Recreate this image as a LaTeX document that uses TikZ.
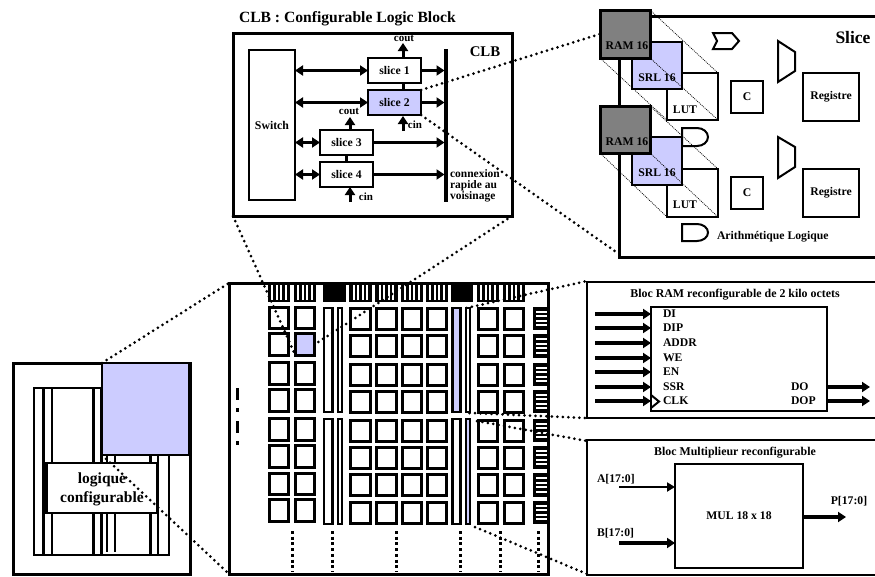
\documentclass[tikz,border=0pt]{standalone}
\usepackage{fontspec}
\setmainfont{Liberation Serif}
\usetikzlibrary{arrows.meta,calc}
\definecolor{lav}{RGB}{204,204,255}
\definecolor{ramgray}{RGB}{128,128,128}
\newcommand{\bx}[7][]{\node[boxn,#1,minimum width={(#4-#2)*1pt},minimum height={(#5-#3)*1pt}] (#6) at ({(#2+#4)/2},{(#3+#5)/2}) {#7};}
\newcommand{\fs}[1]{\bfseries\fontsize{#1}{#1}\selectfont}
\tikzset{
 boxn/.style={draw=black,fill=white,line width=2.5pt,inner sep=0pt,outer sep=0pt,align=center},
 lbl/.style={inner sep=0pt,outer sep=0pt,align=center,font=\fs{11.7}},
 wire/.style={line width=3pt,-{Triangle[length=8pt,width=10pt]}},
 bigwire/.style={line width=3.6pt,-{Triangle[length=8pt,width=10pt]}},
 dwire/.style={line width=3pt,{Triangle[length=8pt,width=10pt]}-{Triangle[length=8pt,width=10pt]}},
 plainw/.style={line width=3pt},
 dots/.style={line width=3pt,line cap=round,dash pattern=on 0pt off 5.5pt},
 thind/.style={line width=0.7pt,dash pattern=on 1pt off 1pt},
 gate/.style={line width=2pt,fill=white,line join=miter},
 cellb/.style={line width=3pt,fill=white},
}
\begin{document}
\begin{tikzpicture}[x=1pt,y=-1pt]
\useasboundingbox (0,0) rectangle (875,576);
\fill[white] (0,0) rectangle (875,576);

%% CLB
\node[lbl,anchor=west,font=\fs{15.6}] (clbtitle) at (239,19) {CLB : Configurable Logic Block};
\bx[line width=3pt]{233}{33}{512}{216}{clb}{}
\node[lbl,font=\fs{14.8}] (clbname) at (485,52) {CLB};
\bx[line width=2.5pt]{249}{50}{295}{200}{sw}{\fs{11.8}Switch}
\bx{368}{58}{421}{83}{s1}{\fs{11.7}slice 1}
\bx[fill=lav]{368}{90}{421}{115}{s2}{\fs{11.7}slice 2}
\bx{320}{130}{373}{155}{s3}{\fs{11.7}slice 3}
\bx{320}{162}{373}{187}{s4}{\fs{11.7}slice 4}
\bx[fill=black,line width=0pt]{444.5}{49}{447.5}{201}{bar}{}
\draw[plainw] (403,83) -- (403,90);
\draw[plainw] (s3.south) -- (s4.north);
\draw[dwire] (s1.west -| sw.east) -- (s1.west);
\draw[dwire] (s2.west -| sw.east) -- (s2.west);
\draw[dwire] (s3.west -| sw.east) -- (s3.west);
\draw[dwire] (s4.west -| sw.east) -- (s4.west);
\draw[wire] (s1.east) -- (s1.east -| bar.west);
\draw[wire] (s2.east) -- (s2.east -| bar.west);
\draw[wire] (s3.east) -- (s3.east -| bar.west);
\draw[wire] (s4.east) -- (s4.east -| bar.west);
\coordinate (c1) at (403,43); \coordinate (c2) at (350,117);
\coordinate (c3) at (403,131); \coordinate (c4) at (350,202);
\coordinate (s1t) at (403,57); \coordinate (s3t) at (350,129);
\coordinate (s2b) at (403,116); \coordinate (s4b) at (350,187);
\draw[wire] (s1t) -- (c1);
\draw[wire] (s3t) -- (c2);
\draw[wire] (c3) -- (s2b);
\draw[wire] (c4) -- (s4b);
\node[lbl,font=\fs{11}] (cout1) at (404,38) {cout};
\node[lbl,font=\fs{11}] (cout2) at (349,111) {cout};
\node[lbl,font=\fs{11}] (cin1) at (415,125) {cin};
\node[lbl,font=\fs{11}] (cin2) at (366,197) {cin};
\node[lbl,anchor=north west,align=left,font=\bfseries\fontsize{11.5}{11}\selectfont] (conn) at (450,170) {connexion\\rapide au\\voisinage};

%% Slice
\draw[line width=3pt] (619,16) -- (876,16);
\draw[line width=3pt] (619,16) -- (619,257) -- (876,257);
\bx[line width=2.5pt]{803}{73}{859}{121}{reg1}{\fs{11.7}Registre}
\bx[line width=2.5pt]{803}{169}{859}{217}{reg2}{\fs{11.7}Registre}
\bx[line width=2.5pt]{731}{81}{763}{113}{cc1}{\fs{11.7}C}
\bx[line width=2.5pt]{731}{177}{763}{209}{cc2}{\fs{11.7}C}
\bx[line width=2pt]{667}{73}{718}{120}{lut1}{}
\bx[line width=2pt]{667}{169}{718}{217}{lut2}{}
\bx[fill=lav,line width=2.5pt]{632}{42}{682}{89}{srl1}{}
\bx[fill=lav,line width=2.5pt]{632}{137}{682}{185}{srl2}{}
% gates
\path[draw,gate] (713,33) -- (732,33) -- (739,41) -- (732,49) -- (713,49) -- (717,41) -- cycle;
\path[draw,gate] (778,41) -- (795,52) -- (795,71) -- (778,82) -- cycle;
\path[draw,gate] (778,137) -- (795,147) -- (795,167) -- (778,178) -- cycle;
\path[draw,gate] (682,128) -- (697,128) arc[start angle=90,end angle=-90,x radius=11,y radius=-9] -- (682,146) -- cycle;
\path[draw,gate] (682,224) -- (697,224) arc[start angle=90,end angle=-90,x radius=11,y radius=-8.5] -- (682,241) -- cycle;
\node[lbl,anchor=west,font=\fs{11.7}] (arith) at (717,237) {Arithmétique Logique};
\node[lbl,font=\fs{17.5}] (slname) at (853,38) {Slice};
\bx[fill=ramgray,line width=3pt]{600}{10}{650}{58}{ram1}{}
\bx[fill=ramgray,line width=3pt]{600}{106}{650}{153}{ram2}{}
\draw[thind] (ram1.north east) -- (lut1.north east);
\draw[thind] (ram1.south east) -- (lut1.south east);
\draw[thind] (ram1.south west) -- (lut1.south west);
\draw[thind] (ram2.north east) -- (lut2.north east);
\draw[thind] (ram2.south east) -- (lut2.south east);
\draw[thind] (ram2.south west) -- (lut2.south west);
\node[lbl,font=\fs{11.7}] (lut1t) at (685,110) {LUT};
\node[lbl,font=\fs{11.7}] (lut2t) at (685,205) {LUT};
\node[lbl,font=\fs{11.7}] (srl1t) at (657,78) {SRL 16};
\node[lbl,font=\fs{11.7}] (srl2t) at (657,173) {SRL 16};
\node[lbl,font=\fs{11.7}] (ram1t) at (627,46) {RAM 16};
\node[lbl,font=\fs{11.7}] (ram2t) at (627,142) {RAM 16};

%% FPGA
\bx[line width=3pt]{229}{283}{548}{574}{fpga}{}
% top pads
\foreach \a/\b in {268/290,294/316,349/372,375/398,401/423,426/448,477/499,503/525}{
  \fill (\a,284) rectangle (\b,302);
  \foreach \k in {0.2,0.4,0.6,0.8}
    \draw[white,line width=2pt] ({\a+\k*(\b-\a)},285) -- ({\a+\k*(\b-\a)},300);
}
\fill (323,284) rectangle (346,302);
\fill (451,284) rectangle (473,302);
% right pads
\foreach \a/\b in {307/330,334/358,363/386,390/413,419/442,446/469,473/497,501/524}{
  \fill (533,\a) rectangle (547,\b);
  \foreach \k in {0.2,0.4,0.6,0.8}
    \draw[white,line width=2pt] (536,{\a+\k*(\b-\a)}) -- (547,{\a+\k*(\b-\a)});
}
% grid
\foreach \a/\b in {306/330,332/357,361/386,388/413,417/442,444/469,472/496,498/523}{
  \foreach \c/\d in {269.5/288.5,295.5/314.5}
    \draw[cellb] (\c,\a+1.5) rectangle (\d,\b-1.5);
}
\foreach \a/\b in {307/331,334/358,363/387,390/414,419/443,446/470,473/497,501/525}{
  \foreach \c/\d in {350.5/370.5,376.5/396.5,402.5/421.5,427.5/446.5,478.5/497.5,504.5/523.5}
    \draw[cellb] (\c,\a+1.5) rectangle (\d,\b-1.5);
}
\bx[fill=lav,line width=3pt]{295.5}{333.5}{314.5}{355.5}{cellsel}{}
% bars
\foreach \a/\b in {308/412,419/524}{
  \draw[line width=2.5pt,fill=white] (324,\a) rectangle (332.5,\b);
  \draw[line width=2.5pt,fill=white] (338,\a) rectangle (342,\b);
}
\bx[fill=lav,line width=2.5pt]{452.5}{308}{460.5}{412}{bar1}{}
\draw[line width=2.5pt,fill=white] (466,308) rectangle (470,412);
\draw[line width=2.5pt,fill=white] (452.5,419) rectangle (460.5,524);
\bx[fill=lav,line width=2.5pt]{466}{419}{470}{524}{bar2}{}
% dashes
\draw[line width=3pt] (237,388) -- (237,400);
\draw[line width=3pt] (237,408) -- (237,412);
\draw[line width=3pt] (237,421) -- (237,433);
\draw[line width=3pt] (237,441) -- (237,445);
\foreach \x in {292,332,396,460,500,538}
  \draw[line width=3pt,dash pattern=on 3pt off 2.7pt] (\x,531) -- (\x,571);

%% Left block
\bx[line width=3pt]{13}{363}{190}{574}{lb}{}
\bx[line width=2.5pt]{34}{388}{169}{555}{lbi}{}
\foreach \x/\w in {43/3,52/2.5,93/3,101/3,150/3,158/2.5}
  \draw[line width=\w pt] (\x,388) -- (\x,555);
\foreach \x in {107,115}
  \draw[line width=2.5pt] (\x,455) -- (\x,552);
\bx[fill=lav,line width=2.5pt]{102}{363}{189.5}{455}{lbl1}{}
\bx[line width=2.5pt]{46}{463}{157}{513}{logic}{}
\draw[line width=3pt] (46,462) -- (46,514);
\node[lbl,font=\fs{15.5}] (lg1) at (102,480) {logique};
\node[lbl,font=\fs{15.5}] (lg2) at (102,499) {configurable};

%% RAM block
\draw[line width=2.5pt] (876,282) -- (587,282) -- (587,418) -- (876,418);
\node[lbl,font=\fs{11.9}] (ramtitle) at (735,295) {Bloc RAM reconfigurable de 2 kilo octets};
\bx[line width=2.5pt]{651}{307}{827}{411}{rb}{}
\foreach \n/\t/\y in {a/DI/314,b/DIP/328,c/ADDR/343,d/WE/358,e/EN/372,f/SSR/387,g/CLK/401}{
  \coordinate (in\n) at (595,\y);
  \coordinate (pin\n) at (651,\y);
  \draw[bigwire] (in\n) -- (pin\n);
  \node[lbl,anchor=west,font=\fs{11.7}] (t\n) at (663,\y) {\t};
}
\draw[line width=2pt] (651,395) -- (659,401.5) -- (651,408);
\node[lbl,anchor=west,font=\fs{11.7}] (tdo) at (791,387) {DO};
\node[lbl,anchor=west,font=\fs{11.7}] (tdop) at (791,401) {DOP};
\coordinate (odo) at (870,387); \coordinate (odop) at (870,401);
\draw[bigwire] (odo -| rb.east) -- (odo);
\draw[bigwire] (odop -| rb.east) -- (odop);

%% MUL block
\draw[line width=2.5pt] (876,440) -- (587,440) -- (587,575) -- (876,575);
\node[lbl,font=\fs{11.9}] (multitle) at (735,453) {Bloc Multiplieur reconfigurable};
\bx[line width=2.5pt]{675}{464}{803}{568}{mb}{\fs{11.7}MUL 18 x 18}
\node[lbl,anchor=west,font=\fs{11.7}] (ta) at (597,479) {A[17:0]};
\node[lbl,anchor=west,font=\fs{11.7}] (tb) at (597,533) {B[17:0]};
\node[lbl,font=\fs{11.7}] (tp) at (849,501) {P[17:0]};
\coordinate (ia) at (619,487); \coordinate (ib) at (619,543); \coordinate (op) at (846,517);
\draw[line width=2pt,-{Triangle[length=8pt,width=9pt]}] (ia) -- (ia -| mb.west);
\draw[bigwire] (ib) -- (ib -| mb.west);
\draw[bigwire] (op -| mb.east) -- (op);

%% dotted links
\draw[dots] (clb.south west) -- (cellsel.south west);
\draw[dots] (clb.south east) -- (cellsel.east);
\draw[dots] (s2.north east) -- (ram1.west);
\draw[dots] (s2.south east) -- (619,254);
\draw[dots] (lbl1.north west) -- (fpga.north west);
\draw[dots] (lbl1.south west) -- (fpga.south west);
\coordinate (r1) at (587,281); \coordinate (r2) at (587,418); \coordinate (m1) at (587,441); \coordinate (m2) at (587,574);
\draw[dots] (bar1.north east)++(6,0) -- (r1);
\draw[dots] (bar1.south east)++(9,1) -- (r2);
\draw[dots] (bar2.north east)++(7,2) -- (m1);
\draw[dots] (bar2.south east)++(5,3) -- (m2);
\end{tikzpicture}
\end{document}
